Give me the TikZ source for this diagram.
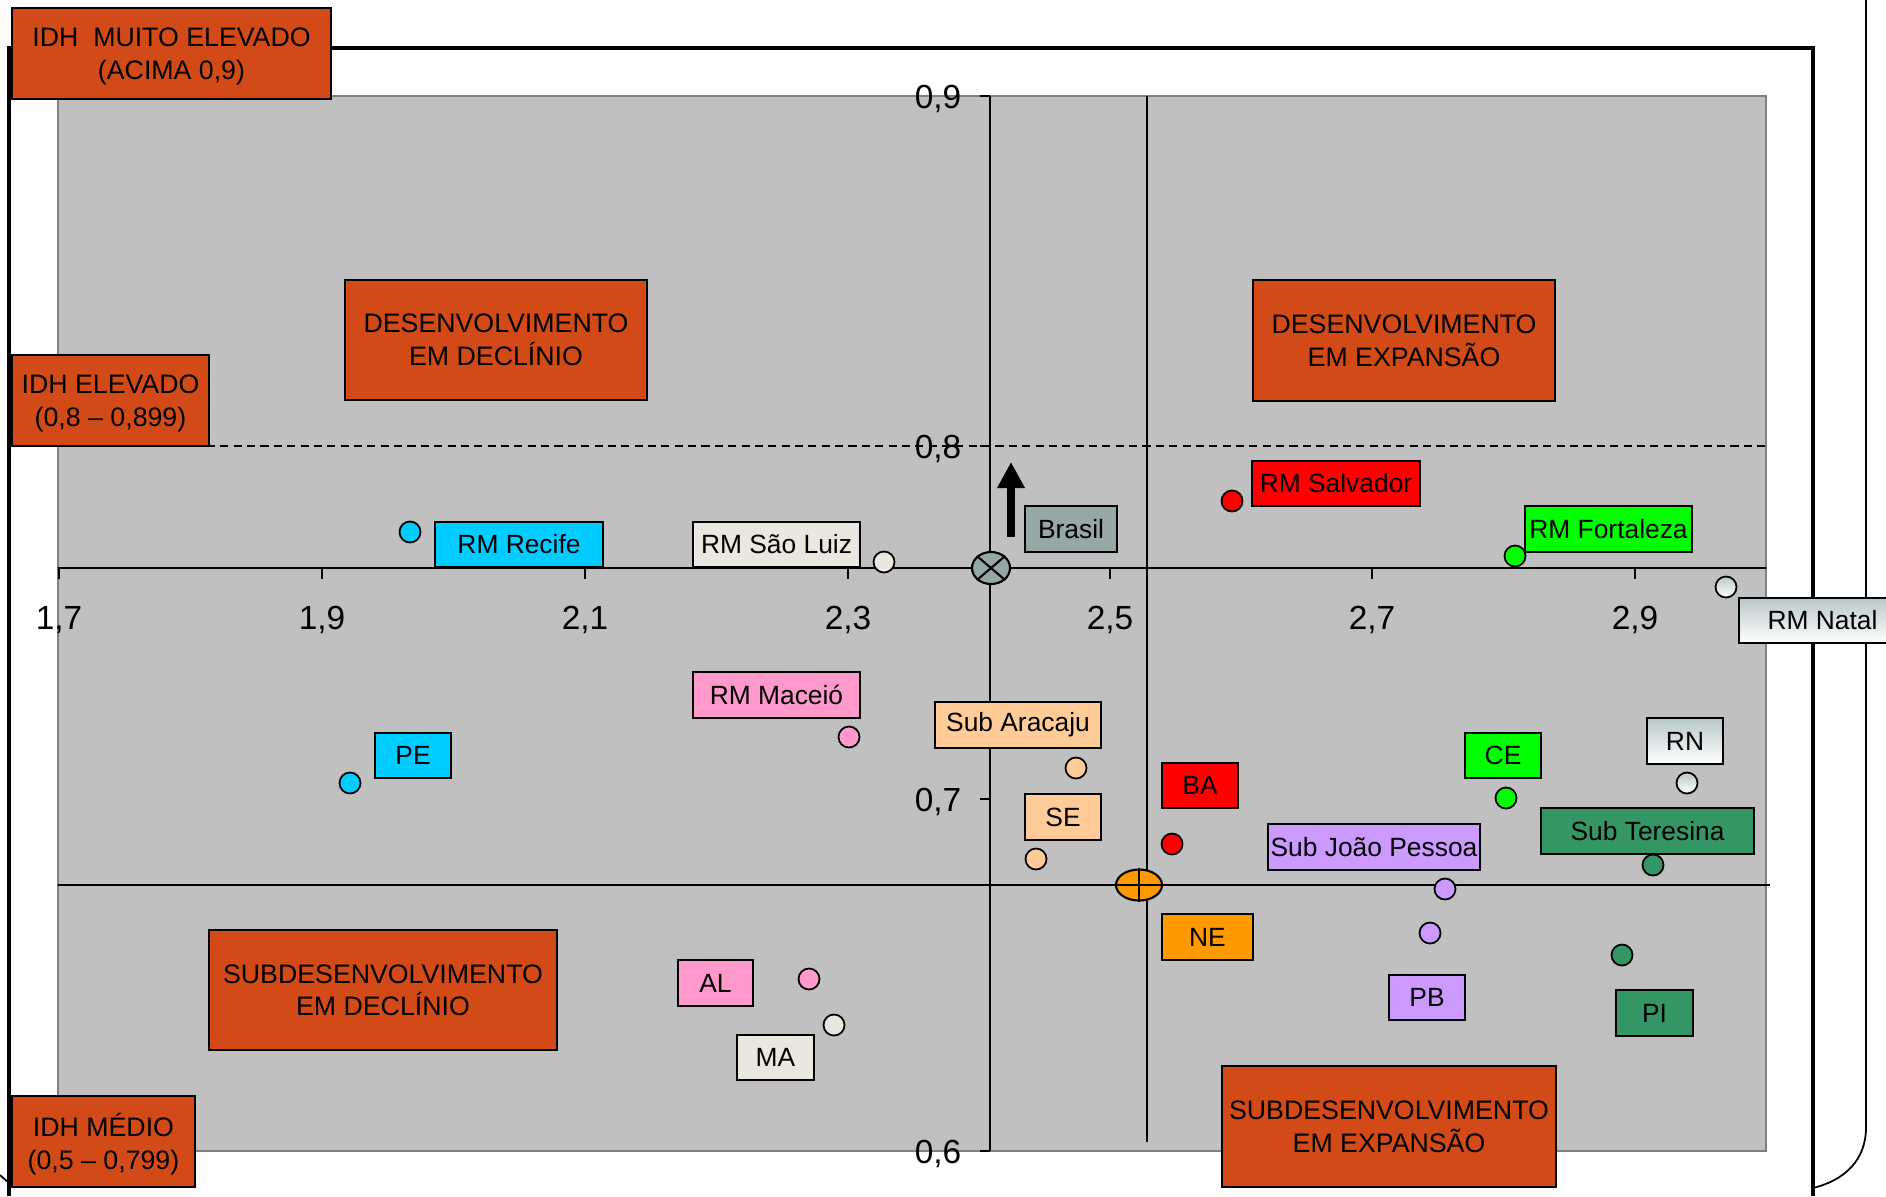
\documentclass[tikz,border=0pt]{standalone}
\usepackage{fontspec}
\setmainfont{Liberation Sans}
\usetikzlibrary{shapes.geometric,arrows.meta}

\definecolor{laranja}{RGB}{210,74,24}
\definecolor{fundo}{RGB}{192,192,192}
\definecolor{bordafundo}{RGB}{128,128,128}
\definecolor{ciano}{RGB}{0,204,255}
\definecolor{bege}{RGB}{234,231,224}
\definecolor{rosa}{RGB}{255,153,204}
\definecolor{pessego}{RGB}{255,204,153}
\definecolor{vermelho}{RGB}{255,0,0}
\definecolor{laranjane}{RGB}{255,153,0}
\definecolor{verde}{RGB}{0,255,0}
\definecolor{verdeesc}{RGB}{51,150,100}
\definecolor{lilas}{RGB}{204,153,255}
\definecolor{cinzabr}{RGB}{150,168,166}
\definecolor{cinzanatal}{RGB}{185,200,200}

\begin{document}
\begin{tikzpicture}[x=0.01cm,y=-0.01cm,
  caixa/.style={draw,line width=0.7pt,fill=laranja,align=center,inner sep=0pt,text depth=0pt,
    font=\fontsize{7.6}{9.3}\selectfont},
  rotulo/.style={draw,line width=0.6pt,inner sep=0pt,minimum height=0.455cm,
    font=\fontsize{7.5}{9}\selectfont},
  ponto/.style={circle,draw,line width=0.5pt,inner sep=0pt,minimum size=0.21cm},
  escala/.style={font=\fontsize{9.5}{11}\selectfont,inner sep=0pt}]

\useasboundingbox (0,0) rectangle (1886,1196);

% outer frames
\draw[line width=0.5pt] (1866,0) -- (1866,1127) .. controls (1866,1160) and (1845,1180) .. (1813,1188);
\draw[line width=0.5pt] (0,1175) -- (9,1183);
\draw[line width=1.1pt] (9,1196) -- (9,48) -- (1813,48) -- (1813,1196);

% plot area
\draw[fill=fundo,draw=bordafundo,line width=0.8pt] (58,96) rectangle (1766,1151);

% IDH 0.8 line
\draw[dash pattern=on 2.3pt off 1.5pt,line width=0.8pt] (60,446) -- (1768,446);

% axes
\draw[line width=0.4pt] (58,568) -- (1766,568);
\draw[line width=0.4pt] (990,96) -- (990,1151);

% NE lines
\draw[line width=0.8pt] (1147,96) -- (1147,1142);
\draw[line width=0.8pt] (58,885) -- (1770,885);

% x ticks
\foreach \x/\t in {59/{1,7},322/{1,9},585/{2,1},848/{2,3},1110/{2,5},1372/{2,7},1635/{2,9}}{
  \draw[line width=0.4pt] (\x,568) -- (\x,579);
  \node[escala] (tx\x) at (\x,620) {\t};
}

% y ticks
\foreach \y/\t in {96/{0,9},446/{0,8},799/{0,7},1151/{0,6}}{
  \draw[line width=0.4pt] (980,\y) -- (990,\y);
  \node[escala,anchor=east] (ty\y) at (962,\y+3) {\t};
}

% Brasil
\node[ellipse,draw,fill=cinzabr,line width=0.6pt,inner sep=0pt,minimum width=0.38cm,minimum height=0.32cm] (pbrasil) at (991,568) {};
\draw[line width=0.6pt] (pbrasil.north west) -- (pbrasil.south east);
\draw[line width=0.6pt] (pbrasil.north east) -- (pbrasil.south west);
\node[rotulo,fill=cinzabr,minimum width=0.92cm] (rbrasil) at (1071,529) {Brasil};
\coordinate (setabase) at (1011,537);
\coordinate (setaponta) at (1011,462);
\draw[line width=2.3pt,-{Triangle[length=0.26cm,width=0.26cm]}] (setabase) -- (setaponta);

% NE
\node[ellipse,draw,fill=laranjane,line width=0.6pt,inner sep=0pt,minimum width=0.46cm,minimum height=0.31cm] (pne) at (1139,885) {};
\draw[line width=0.6pt] (pne.north) -- (pne.south);
\draw[line width=0.6pt] (pne.west) -- (pne.east);
\node[rotulo,fill=laranjane,minimum width=0.91cm] (rne) at (1207.5,937) {NE};

% Pernambuco
\node[ponto,fill=ciano] (precife) at (410,532) {};
\node[rotulo,fill=ciano,minimum width=1.68cm] (rrecife) at (519,544.5) {RM Recife};
\node[ponto,fill=ciano] (ppe) at (350,783) {};
\node[rotulo,fill=ciano,minimum width=0.76cm] (rpe) at (413,755.5) {PE};

% Maranhao
\node[ponto,fill=bege] (psaoluiz) at (884,562) {};
\node[rotulo,fill=bege,minimum width=1.67cm] (rsaoluiz) at (776.5,544.5) {RM São Luiz};
\node[ponto,fill=bege] (pma) at (834,1025) {};
\node[rotulo,fill=bege,minimum width=0.77cm] (rma) at (775.5,1057.5) {MA};

% Alagoas
\node[ponto,fill=rosa] (pmaceio) at (849,737) {};
\node[rotulo,fill=rosa,minimum width=1.67cm] (rmaceio) at (776.5,695) {RM Maceió};
\node[ponto,fill=rosa] (pal) at (809,979) {};
\node[rotulo,fill=rosa,minimum width=0.75cm] (ral) at (715.5,983) {AL};

% Sergipe
\node[ponto,fill=pessego] (paracaju) at (1076,768) {};
\node[rotulo,fill=pessego,minimum width=1.66cm] (raracaju) at (1018,725) {Sub Aracaju};
\node[ponto,fill=pessego] (pse) at (1036,859) {};
\node[rotulo,fill=pessego,minimum width=0.76cm] (rse) at (1063,817) {SE};

% Bahia
\node[ponto,fill=vermelho] (psalvador) at (1232,501) {};
\node[rotulo,fill=vermelho,minimum width=1.68cm] (rsalvador) at (1336,483.5) {RM Salvador};
\node[ponto,fill=vermelho] (pba) at (1172,844) {};
\node[rotulo,fill=vermelho,minimum width=0.76cm] (rba) at (1200,785.5) {BA};

% Ceara
\node[ponto,fill=verde] (pfortaleza) at (1515,556) {};
\node[rotulo,fill=verde,minimum width=1.67cm] (rfortaleza) at (1608.5,529) {RM Fortaleza};
\node[ponto,fill=verde] (pce) at (1506,798) {};
\node[rotulo,fill=verde,minimum width=0.76cm] (rce) at (1503,755.5) {CE};

% Paraiba
\node[ponto,fill=lilas] (pjoaopessoa) at (1445,889) {};
\node[rotulo,fill=lilas,minimum width=2.12cm] (rjoaopessoa) at (1374,847) {Sub João Pessoa};
\node[ponto,fill=lilas] (ppb) at (1430,933) {};
\node[rotulo,fill=lilas,minimum width=0.76cm] (rpb) at (1427,997.5) {PB};

% Piaui
\node[ponto,fill=verdeesc] (pteresina) at (1653,865) {};
\node[rotulo,fill=verdeesc,minimum width=2.13cm] (rteresina) at (1647.5,831) {Sub Teresina};
\node[ponto,fill=verdeesc] (ppi) at (1622,955) {};
\node[rotulo,fill=verdeesc,minimum width=0.77cm] (rpi) at (1654.5,1013) {PI};

% Rio Grande do Norte
\node[ponto,top color=cinzanatal,bottom color=white] (pnatal) at (1726,587) {};
\node[rotulo,top color=cinzanatal,bottom color=white,minimum width=1.67cm] (rnatal) at (1822.5,620.5) {RM Natal};
\node[ponto,top color=cinzanatal,bottom color=white] (prn) at (1687,783) {};
\node[rotulo,top color=cinzanatal,bottom color=white,minimum width=0.76cm] (rrn) at (1685,741) {RN};

% quadrant boxes
\node[caixa,minimum width=3.02cm,minimum height=1.2cm] (desdecl) at (496,340) {DESENVOLVIMENTO\\EM DECLÍNIO};
\node[caixa,minimum width=3.02cm,minimum height=1.21cm] (desexp) at (1404,340.5) {DESENVOLVIMENTO\\EM EXPANSÃO};
\node[caixa,minimum width=3.48cm,minimum height=1.2cm] (subdecl) at (383,990) {SUBDESENVOLVIMENTO\\EM DECLÍNIO};
\node[caixa,minimum width=3.34cm,minimum height=1.21cm] (subexp) at (1389,1126.5) {SUBDESENVOLVIMENTO\\EM EXPANSÃO};

% IDH boxes
\node[caixa,minimum width=3.19cm,minimum height=0.91cm] (muito) at (171.5,53.5) {IDH\ \ MUITO ELEVADO\\(ACIMA 0,9)};
\node[caixa,minimum width=1.97cm,minimum height=0.91cm] (elevado) at (110.5,400.5) {IDH ELEVADO\\(0,8 – 0,899)};
\node[caixa,minimum width=1.83cm,minimum height=0.91cm] (medio) at (103.5,1141.5) {IDH MÉDIO\\(0,5 – 0,799)};

\end{tikzpicture}
\end{document}
